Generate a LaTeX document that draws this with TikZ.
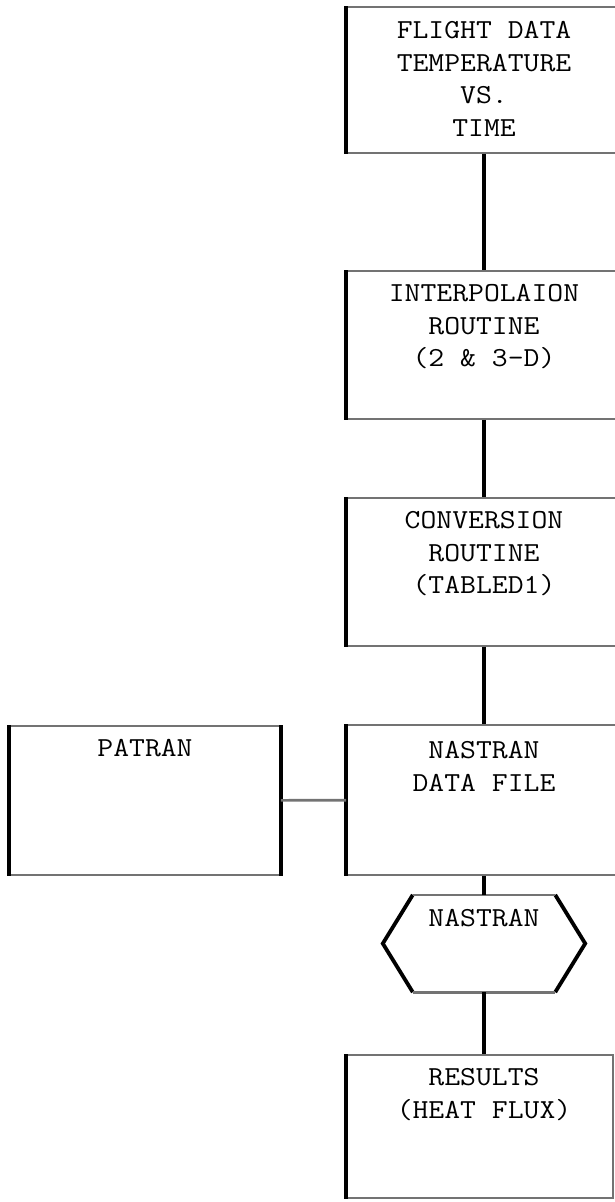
\documentclass[tikz,border=0pt]{standalone}
\usepackage{fontspec}
\setmonofont{Latin Modern Mono}[FakeStretch=1.12]
\usepackage{tikz}
\usetikzlibrary{positioning}

\begin{document}
\begin{tikzpicture}[x=1pt, y=-1pt,
    flowbox/.style={draw=black!55, line width=1.6pt, inner sep=0pt},
    boxtext/.style={align=center, inner sep=0pt, font=\ttfamily\fontsize{27.5}{32.5}\selectfont},
    heavy/.style={line width=3.8pt},
    link/.style={draw=black!55, line width=2.6pt}]
    \useasboundingbox (0,0) rectangle (615,1202);

    \node[flowbox, minimum width=274, minimum height=146] (flight) at (484,80) {};
    \node[flowbox, minimum width=274, minimum height=148] (interp) at (484,345) {};
    \node[flowbox, minimum width=274, minimum height=148] (conv) at (484,572) {};
    \node[flowbox, minimum width=274, minimum height=150] (data) at (484,800) {};
    \node[flowbox, minimum width=270, minimum height=149] (patran) at (145,800.5) {};
    \node[flowbox, minimum width=266, minimum height=143] (results) at (480,1126.5) {};
    \node[minimum width=202, minimum height=97, inner sep=0pt] (run) at (484,943.5) {};

    \node[boxtext, below=15pt of flight.north] (flighttxt) {FLIGHT DATA\\TEMPERATURE\\VS.\\TIME};
    \node[boxtext, below=14pt of interp.north] (interptxt) {INTERPOLAION\\ROUTINE\\(2 \& 3-D)};
    \node[boxtext, below=14pt of conv.north] (convtxt) {CONVERSION\\ROUTINE\\(TABLED1)};
    \node[boxtext, below=17pt of data.north] (datatxt) {NASTRAN\\DATA FILE};
    \node[boxtext, below=14pt of patran.north] (patrantxt) {PATRAN};
    \node[boxtext, below=14pt of run.north] (runtxt) {NASTRAN};
    \node[boxtext, below=14pt of results.north, xshift=4pt] (resultstxt) {RESULTS\\(HEAT FLUX)};

    \foreach \b in {flight,interp,conv,data,patran,results}
        \draw[heavy] (\b.north west) -- (\b.south west);
    \draw[heavy] (patran.north east) -- (patran.south east);

    \draw[heavy] ([xshift=30pt]run.north west) -- (run.west) -- ([xshift=30pt]run.south west);
    \draw[heavy] ([xshift=-30pt]run.north east) -- (run.east) -- ([xshift=-30pt]run.south east);
    \draw[link] ([xshift=30pt]run.north west) -- ([xshift=-30pt]run.north east);
    \draw[link] ([xshift=30pt]run.south west) -- ([xshift=-30pt]run.south east);

    \draw[heavy] (flight) -- (interp);
    \draw[heavy] (interp) -- (conv);
    \draw[heavy] (conv) -- (data);
    \draw[heavy] (data) -- (run);
    \draw[heavy] (run.south) -- (run.south |- results.north);
    \draw[link] (patran) -- (data);
\end{tikzpicture}
\end{document}
